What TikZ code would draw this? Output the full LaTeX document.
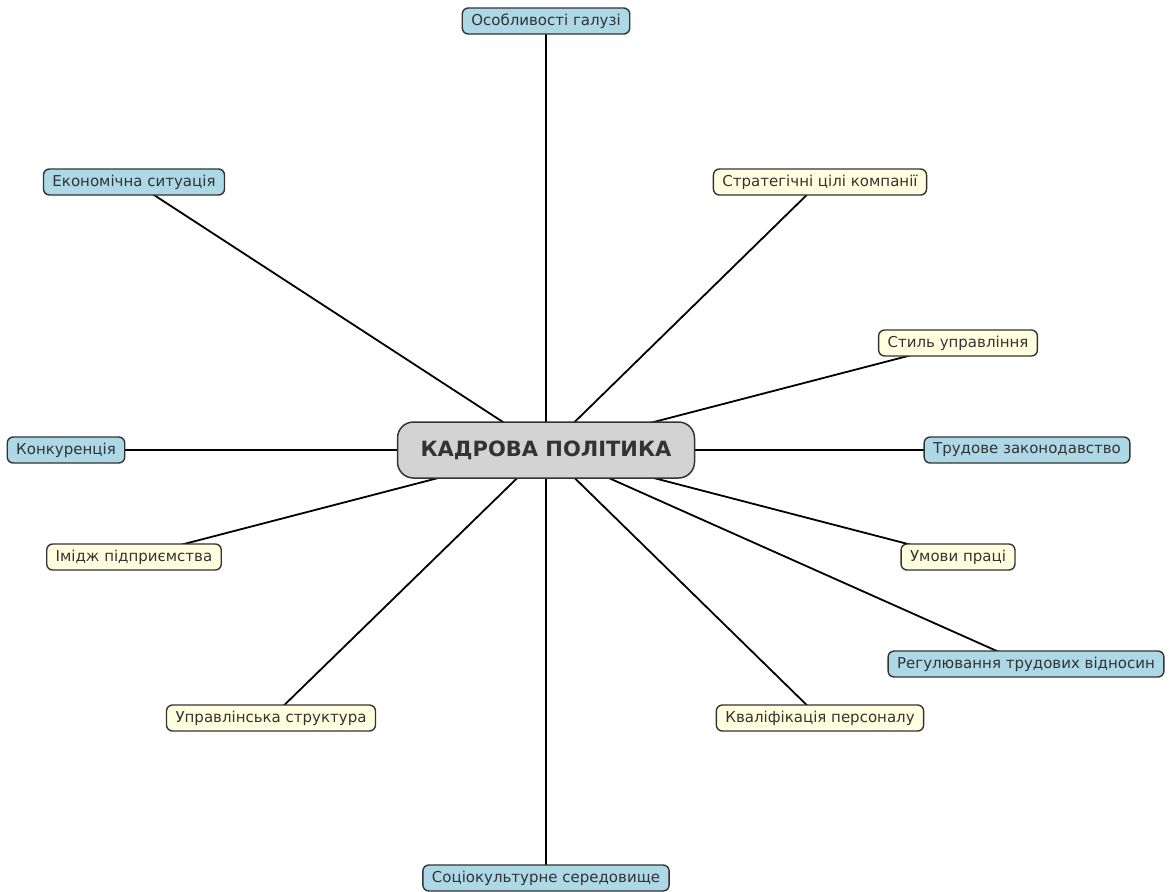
\documentclass[tikz,border=0pt]{standalone}
\usepackage{fontspec}
\setmainfont{DejaVu Sans}
\usetikzlibrary{backgrounds}
\definecolor{txt}{HTML}{333333}
\definecolor{lblue}{HTML}{ADD8E6}
\definecolor{lyellow}{HTML}{FFFFE0}
\definecolor{lgray}{HTML}{D3D3D3}
\begin{document}
\begin{tikzpicture}[x=1pt,y=-1pt,
  leaf/.style={draw=txt,line width=1.4pt,rounded corners=6pt,text=txt,font=\fontsize{15}{17}\selectfont,minimum height=26pt,inner xsep=9pt,inner ysep=0pt},
  bleaf/.style={leaf,fill=lblue},
  yleaf/.style={leaf,fill=lyellow},
  hub/.style={draw=txt,line width=1.5pt,rounded corners=16pt,fill=lgray,text=txt,font=\bfseries\fontsize{21}{24}\selectfont,minimum height=56pt,minimum width=297pt,inner sep=0pt},
  conn/.style={line width=1.8pt,black}]
\useasboundingbox (0,0) rectangle (1176,892);
\node[hub] (c) at (546,450) {КАДРОВА ПОЛІТИКА};
\node[bleaf] (n1) at (546,21) {Особливості галузі};
\node[bleaf] (n2) at (134,182) {Економічна ситуація};
\node[yleaf] (n3) at (820,182) {Стратегічні цілі компанії};
\node[yleaf] (n4) at (958,343) {Стиль управління};
\node[bleaf] (n5) at (66,450) {Конкуренція};
\node[bleaf] (n6) at (1027,450) {Трудове законодавство};
\node[yleaf] (n7) at (134,557) {Імідж підприємства};
\node[yleaf] (n8) at (958,557) {Умови праці};
\node[bleaf] (n9) at (1026,664) {Регулювання трудових відносин};
\node[yleaf] (n10) at (271,718) {Управлінська структура};
\node[yleaf] (n11) at (820,718) {Кваліфікація персоналу};
\node[bleaf] (n12) at (546,878) {Соціокультурне середовище};
\begin{scope}[on background layer]
\foreach \n in {n1,n2,n3,n4,n5,n6,n7,n8,n9,n10,n11,n12}
  \draw[conn] (c.center) -- (\n.center);
\end{scope}
\end{tikzpicture}
\end{document}
